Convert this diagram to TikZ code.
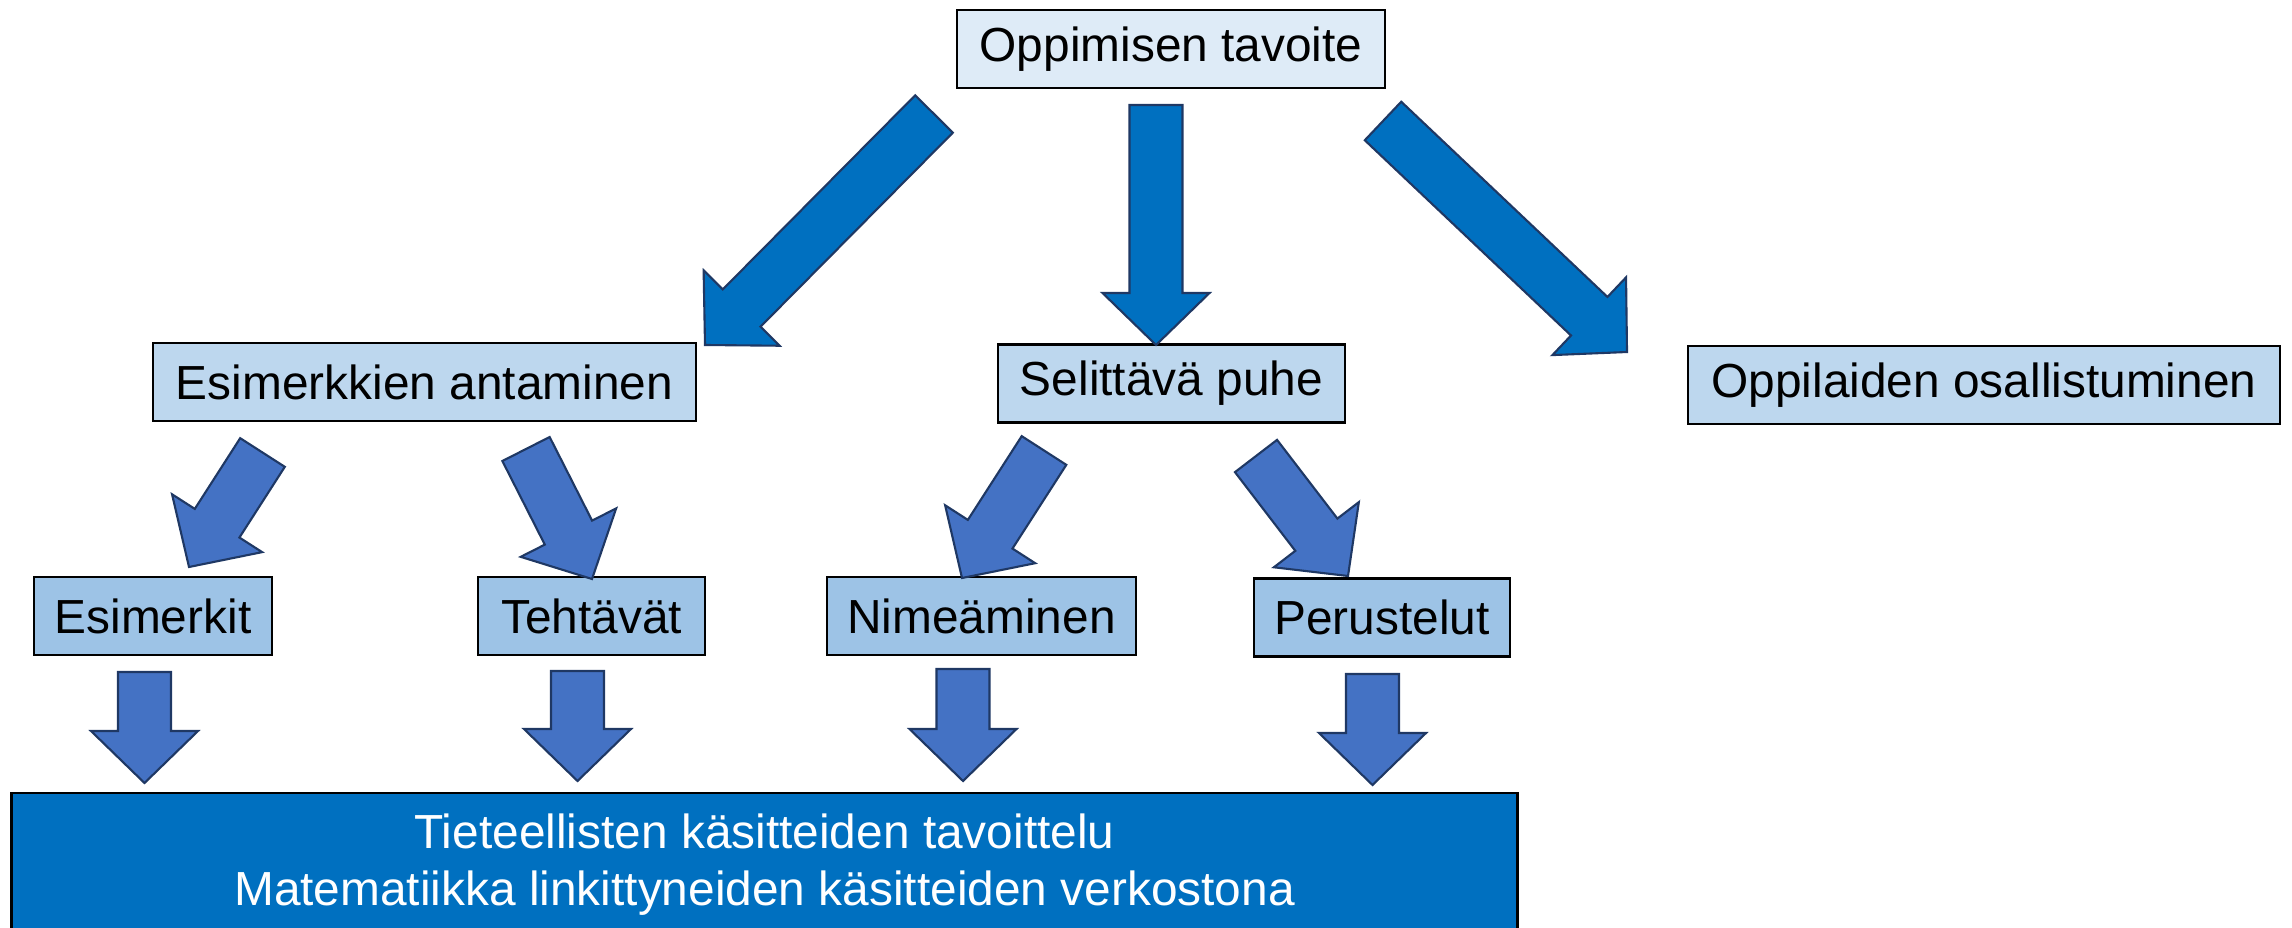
\documentclass[tikz,border=0pt]{standalone}
\usepackage{fontspec}
\setmainfont{Liberation Sans}
\usetikzlibrary{calc, positioning}
\definecolor{toplight}{HTML}{DEEBF7}
\definecolor{midlight}{HTML}{BDD7EE}
\definecolor{lowlight}{HTML}{9DC3E6}
\definecolor{strongblue}{HTML}{0070C0}
\definecolor{softblue}{HTML}{4472C4}
\definecolor{edgeblue}{HTML}{1F3864}

% block arrow from tail #2 to tip #3
\newcommand{\shaftw}{0.265cm}
\newcommand{\headw}{0.535cm}
\newcommand{\headlen}{0.52cm}
\newcommand{\bigarrow}[3][]{%
  \path ($(#3)!\headlen!(#2)$) coordinate (hb);
  \draw[#1] ($(#2)!\shaftw!90:(#3)$) -- ($(hb)!\shaftw!90:(#3)$) -- ($(hb)!\headw!90:(#3)$)
    -- (#3) -- ($(hb)!\headw!-90:(#3)$) -- ($(hb)!\shaftw!-90:(#3)$) -- ($(#2)!\shaftw!-90:(#3)$) -- cycle;
}

\begin{document}
\begin{tikzpicture}[
    x=0.01cm, y=-0.01cm,
    font=\fontsize{13.6}{16.2}\selectfont,
    box/.style={rectangle, draw=black, line width=0.7pt, inner sep=0pt, minimum height=0.78cm, align=center},
    mainarrow/.style={fill=strongblue, draw=edgeblue, line width=0.6pt},
    subarrow/.style={fill=softblue, draw=edgeblue, line width=0.6pt}
]
\useasboundingbox (0,0) rectangle (2292,928);

\node[box, fill=toplight, minimum width=4.28cm] (goal) at (1171,49) {Oppimisen tavoite};
\node[box, fill=midlight, minimum width=5.43cm] (examples) at (424.5,382) {Esimerkkien antaminen};
\node[box, fill=midlight, minimum width=3.47cm] (talk) at (1171.5,383.5) {Selittävä puhe};
\node[box, fill=midlight, minimum width=5.92cm] (pupils) at (1984,385) {Oppilaiden osallistuminen};
\node[box, fill=lowlight, minimum width=2.38cm] (samples) at (153,616) {Esimerkit};
\node[box, fill=lowlight, minimum width=2.27cm] (tasks) at (591.5,616) {Tehtävät};
\node[box, fill=lowlight, minimum width=3.09cm] (naming) at (981.5,616) {Nimeäminen};
\node[box, fill=lowlight, minimum width=2.56cm] (reasons) at (1382,617.5) {Perustelut};
\node[box, fill=strongblue, text=white, minimum width=15.05cm, minimum height=1.44cm] (concepts) at (764.5,865)
    {Tieteellisten käsitteiden tavoittelu\\ Matematiikka linkittyneiden käsitteiden verkostona};

% arrow ends
\coordinate (goal-l) at (934,114);
\coordinate (goal-c) at (1156,105);
\coordinate (goal-r) at (1383,121);
\coordinate (examples-in) at (705,345);
\coordinate (talk-in) at (1156,345);
\coordinate (pupils-in) at (1627,352);
\coordinate (examples-l) at (262.5,452.5);
\coordinate (examples-r) at (526,449);
\coordinate (talk-l) at (1044,450.5);
\coordinate (talk-r) at (1256,456);
\coordinate (samples-in) at (189,567);
\coordinate (tasks-in) at (592,579);
\coordinate (naming-in) at (962,578);
\coordinate (reasons-in) at (1348,576);
\coordinate (samples-out) at (144.5,672);
\coordinate (tasks-out) at (577.5,671);
\coordinate (naming-out) at (963,669);
\coordinate (reasons-out) at (1372.5,674);
\coordinate (concepts-a) at (144.5,783);
\coordinate (concepts-b) at (577.5,781);
\coordinate (concepts-c) at (963,781);
\coordinate (concepts-d) at (1372.5,785);

\bigarrow[mainarrow]{goal-l}{examples-in}
\bigarrow[mainarrow]{goal-c}{talk-in}
\bigarrow[mainarrow]{goal-r}{pupils-in}
\bigarrow[subarrow]{examples-l}{samples-in}
\bigarrow[subarrow]{examples-r}{tasks-in}
\bigarrow[subarrow]{talk-l}{naming-in}
\bigarrow[subarrow]{talk-r}{reasons-in}
\bigarrow[subarrow]{samples-out}{concepts-a}
\bigarrow[subarrow]{tasks-out}{concepts-b}
\bigarrow[subarrow]{naming-out}{concepts-c}
\bigarrow[subarrow]{reasons-out}{concepts-d}
\end{tikzpicture}
\end{document}
